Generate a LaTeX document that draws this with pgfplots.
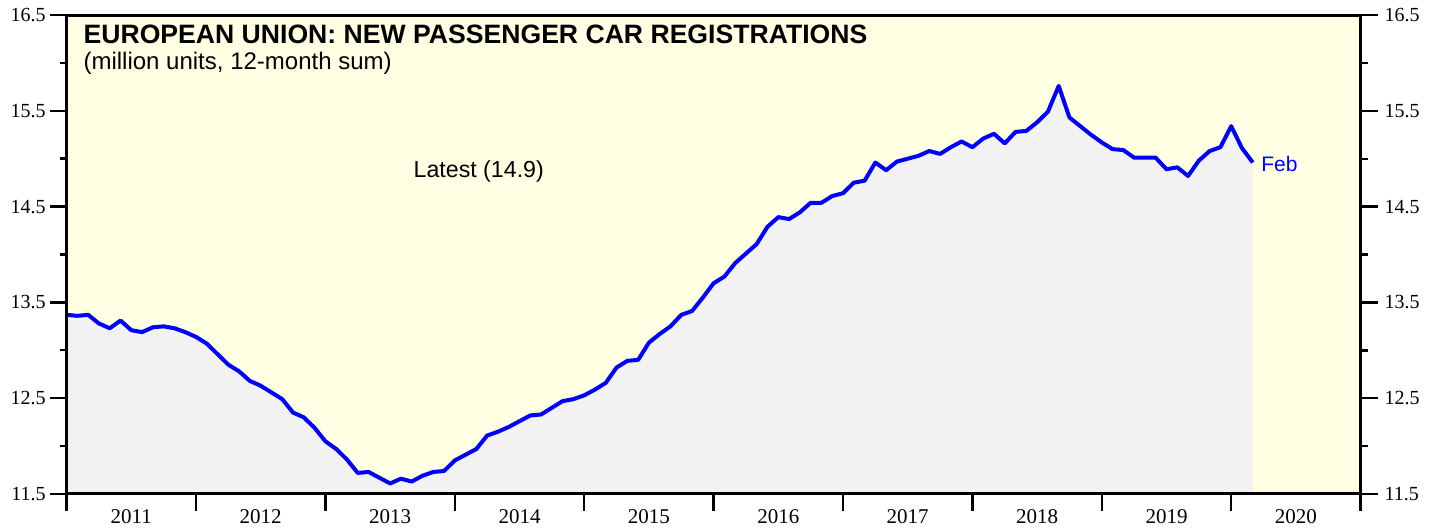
\documentclass[border=0pt]{standalone}
\usepackage{fontspec}
\setmainfont{Liberation Serif}
\newfontfamily\arial{Liberation Sans}
\usepackage{pgfplots}
\usepackage{pgfplotstable}
\pgfplotsset{compat=1.18}
\definecolor{bgyellow}{RGB}{255,255,228}
\definecolor{fillgray}{RGB}{242,242,242}
\definecolor{lineblue}{RGB}{0,0,255}
\pgfplotstableread{
k v
0 13.37
1 13.36
2 13.37
3 13.28
4 13.23
5 13.31
6 13.21
7 13.19
8 13.24
9 13.25
10 13.23
11 13.19
12 13.14
13 13.07
14 12.96
15 12.85
16 12.78
17 12.68
18 12.63
19 12.56
20 12.49
21 12.35
22 12.30
23 12.19
24 12.05
25 11.97
26 11.86
27 11.72
28 11.73
29 11.67
30 11.61
31 11.66
32 11.63
33 11.69
34 11.73
35 11.74
36 11.85
37 11.91
38 11.97
39 12.11
40 12.15
41 12.20
42 12.26
43 12.32
44 12.33
45 12.40
46 12.47
47 12.49
48 12.53
49 12.59
50 12.66
51 12.82
52 12.89
53 12.90
54 13.08
55 13.17
56 13.25
57 13.37
58 13.41
59 13.55
60 13.70
61 13.77
62 13.91
63 14.01
64 14.11
65 14.29
66 14.39
67 14.37
68 14.44
69 14.54
70 14.54
71 14.61
72 14.64
73 14.75
74 14.77
75 14.96
76 14.88
77 14.97
78 15.00
79 15.03
80 15.08
81 15.05
82 15.12
83 15.18
84 15.12
85 15.21
86 15.26
87 15.16
88 15.28
89 15.29
90 15.38
91 15.49
92 15.76
93 15.43
94 15.34
95 15.25
96 15.17
97 15.10
98 15.09
99 15.01
100 15.01
101 15.01
102 14.89
103 14.91
104 14.82
105 14.98
106 15.08
107 15.12
108 15.34
109 15.11
110 14.96
}\cars
\begin{document}
\begin{tikzpicture}
\pgfplotsset{
  common/.style={
    scale only axis, width=647pt, height=239.5pt,
    xmin=0, xmax=120, ymin=11.5, ymax=16.5,
    tick align=outside,
    major tick length=8.5pt, minor tick length=3.5pt,
    every tick/.style={black, line width=1.2pt},
    axis line style={line width=1.5pt},
    ytick={11.5,12.5,...,16.5},
    minor ytick={12,13,14,15,16},
    /pgf/number format/assume math mode=true,
    /pgf/number format/fixed, /pgf/number format/precision=1,
    yticklabel style={font=\fontsize{10}{12}\selectfont},
    xticklabel style={font=\fontsize{10.5}{12}\selectfont},
  }
}
\begin{axis}[common,
  axis on top,
  axis background/.style={fill=bgyellow},
  xtick={0,12,...,120},
  xticklabels={2011,2012,2013,2014,2015,2016,2017,2018,2019,2020,},
  xticklabel style={xshift=32.35pt, yshift=4.5pt},
  yticklabel style={xshift=1.5pt},
  xtick pos=bottom, ytick pos=left,
  clip=true,
]
\addplot[fill=fillgray, draw=none] table[x=k, y=v] {\cars} \closedcycle;
\addplot[lineblue, line width=2pt, line join=round] table[x=k, y=v] {\cars};
\node[anchor=base west, inner sep=0, font=\arial\bfseries\fontsize{13.3}{15}\selectfont]
  at ([shift={(8.3pt,225.3pt)}]rel axis cs:0,0) {EUROPEAN UNION: NEW PASSENGER CAR REGISTRATIONS};
\node[anchor=base west, inner sep=0, font=\arial\fontsize{12}{14}\selectfont]
  at ([shift={(8.3pt,212.3pt)}]rel axis cs:0,0) {(million units, 12-month sum)};
\node[anchor=base west, inner sep=0, font=\arial\fontsize{11.6}{14}\selectfont]
  at ([shift={(173.3pt,158.3pt)}]rel axis cs:0,0) {Latest (14.9)};
\node[anchor=base west, inner sep=0, text=lineblue, font=\arial\fontsize{10.5}{12}\selectfont]
  at ([shift={(597.2pt,161.2pt)}]rel axis cs:0,0) {Feb};
\end{axis}
\begin{axis}[common,
  axis y line*=right, axis x line=none,
]
\end{axis}
\pgfresetboundingbox
\path[use as bounding box] (-33.3pt,-17.5pt) rectangle (686.2pt,247pt);
\end{tikzpicture}
\end{document}
